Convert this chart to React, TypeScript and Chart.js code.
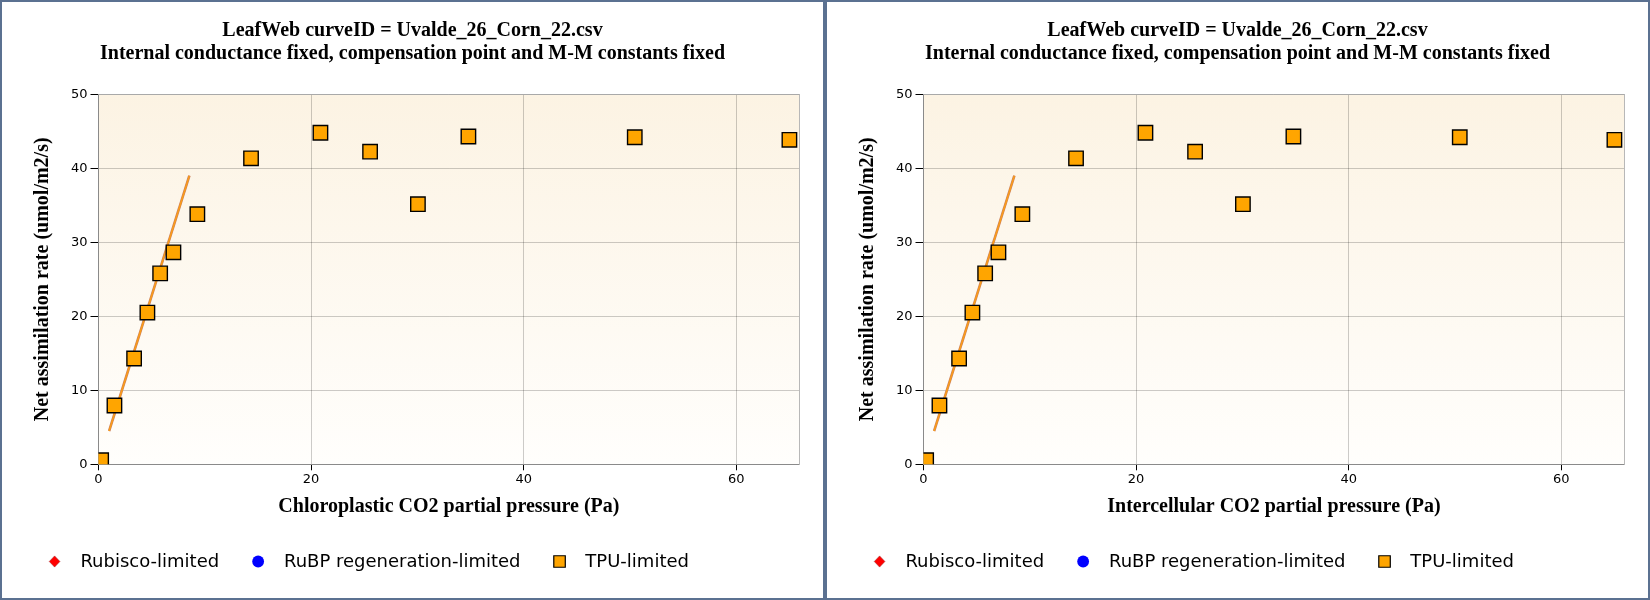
import React, { useEffect, useRef } from 'react';
import { Chart, registerables } from 'chart.js';

Chart.register(...registerables);

// ---- data ----
const pressureValues = [0.25, 1.5, 3.35, 4.6, 5.8, 7.05, 9.3, 14.35, 20.88, 25.55, 30.05, 34.8, 50.45, 65.0];
const assimilationValues = [0.55, 7.95, 14.3, 20.5, 25.8, 28.65, 33.8, 41.35, 44.8, 42.25, 35.15, 44.3, 44.2, 43.85];
const fitLineX = [1.0, 8.55];
const fitLineY = [4.5, 39.0];
const rubiscoX: number[] = [];
const rubiscoY: number[] = [];
const rubpX: number[] = [];
const rubpY: number[] = [];
const xTickValues = [0, 20, 40, 60];
const yTickValues = [0, 10, 20, 30, 40, 50];
const xMin = 0;
const xMax = 65.93;
const yMin = 0;
const yMax = 50;
const titleLines = [
  'LeafWeb curveID = Uvalde_26_Corn_22.csv',
  'Internal conductance fixed, compensation point and M-M constants fixed',
];
const yAxisTitle = 'Net assimilation rate (umol/m2/s)';
const xAxisTitles = ['Chloroplastic CO2 partial pressure (Pa)', 'Intercellular CO2 partial pressure (Pa)'];
const legendLabels = ['Rubisco-limited', 'RuBP regeneration-limited', 'TPU-limited'];

const toPoints = (xs: number[], ys: number[]) => xs.map((x, i) => ({ x, y: ys[i] }));

const SERIF = "'Liberation Serif', 'Times New Roman', serif";
const SANS = "'DejaVu Sans', Verdana, sans-serif";

const plotFrame = {
  id: 'plotFrame',
  beforeDraw(chart: any) {
    const { ctx, chartArea: a } = chart;
    const g = ctx.createLinearGradient(0, a.top, 0, a.bottom);
    g.addColorStop(0, '#fcf3e3');
    g.addColorStop(1, '#fffefc');
    ctx.save();
    ctx.fillStyle = g;
    ctx.fillRect(a.left, a.top, a.right - a.left, a.bottom - a.top);
    ctx.restore();
  },
  beforeDatasetsDraw(chart: any) {
    const { ctx, chartArea: a } = chart;
    ctx.save();
    ctx.strokeStyle = '#a9a9a9';
    ctx.lineWidth = 1;
    ctx.beginPath();
    const ty = Math.round(a.top) + 0.5;
    ctx.moveTo(a.left, ty);
    ctx.lineTo(a.right, ty);
    ctx.stroke();
    ctx.restore();
  },
};

const customLegend = {
  id: 'customLegend',
  afterDraw(chart: any) {
    const { ctx } = chart;
    const items = chart.data.datasets
      .filter((d: any) => d.legendMarker)
      .sort((a: any, b: any) => legendLabels.indexOf(a.label) - legendLabels.indexOf(b.label));
    const centerY = 559.5;
    const baseY = 565.3;
    let x = 52.6;
    ctx.save();
    ctx.font = `18px ${SANS}`;
    ctx.textBaseline = 'alphabetic';
    ctx.textAlign = 'left';
    for (const d of items) {
      const m = d.legendMarker;
      ctx.beginPath();
      if (m === 'diamond') {
        const r = 5.6;
        ctx.moveTo(x, centerY - r);
        ctx.lineTo(x + r * 0.95, centerY);
        ctx.lineTo(x, centerY + r);
        ctx.lineTo(x - r * 0.95, centerY);
        ctx.closePath();
        ctx.fillStyle = d.pointBackgroundColor;
        ctx.fill();
        ctx.strokeStyle = 'rgba(150,20,20,0.6)';
        ctx.lineWidth = 0.8;
        ctx.stroke();
      } else if (m === 'circle') {
        ctx.arc(x, centerY, 5.9, 0, Math.PI * 2);
        ctx.fillStyle = d.pointBackgroundColor;
        ctx.fill();
      } else {
        const s = 11.5;
        ctx.rect(x - s / 2, centerY - s / 2, s, s);
        ctx.fillStyle = d.pointBackgroundColor;
        ctx.fill();
        ctx.strokeStyle = '#000';
        ctx.lineWidth = 1.2;
        ctx.stroke();
      }
      ctx.fillStyle = '#000';
      const tx = x + 25.8;
      ctx.fillText(d.label, tx, baseY);
      x = tx + ctx.measureText(d.label).width + 39;
    }
    ctx.restore();
  },
};

function buildConfig(xTitle: string): any {
  return {
    type: 'scatter',
    data: {
      datasets: [
        {
          label: legendLabels[2],
          legendMarker: 'square',
          data: toPoints(pressureValues, assimilationValues),
          pointStyle: 'rect',
          pointRadius: 10.2,
          pointBackgroundColor: '#ffa500',
          pointBorderColor: '#000',
          pointBorderWidth: 1.4,
          order: 0,
        },
        {
          label: legendLabels[0],
          legendMarker: 'diamond',
          data: toPoints(rubiscoX, rubiscoY),
          pointStyle: 'rectRot',
          pointRadius: 6,
          pointBackgroundColor: '#ff0000',
          order: 1,
        },
        {
          label: legendLabels[1],
          legendMarker: 'circle',
          data: toPoints(rubpX, rubpY),
          pointStyle: 'circle',
          pointRadius: 6,
          pointBackgroundColor: '#0000ff',
          order: 2,
        },
        {
          label: 'fit-under',
          data: toPoints(fitLineX, fitLineY),
          showLine: true,
          borderColor: '#c9805e',
          borderWidth: 2.6,
          pointRadius: 0,
          order: 4,
        },
        {
          label: 'fit',
          data: toPoints(fitLineX, fitLineY),
          showLine: true,
          borderColor: '#fb9c18',
          borderWidth: 1.5,
          pointRadius: 0,
          order: 3,
        },
      ],
    },
    options: {
      responsive: false,
      animation: false,
      events: [],
      layout: { padding: { top: 0, left: 0, right: 0, bottom: 66 } },
      plugins: {
        legend: { display: false },
        tooltip: { enabled: false },
        title: {
          display: true,
          text: titleLines,
          color: '#000',
          font: { family: SERIF, weight: 'bold', size: 20, lineHeight: 1.15 },
          padding: { top: 17, bottom: 29.3 },
        },
      },
      scales: {
        x: {
          type: 'linear',
          min: xMin,
          max: xMax,
          afterBuildTicks: (axis: any) => {
            axis.ticks = xTickValues.map((v) => ({ value: v }));
          },
          afterFit: (s: any) => {
            s.height = 67.7;
          },
          grid: { color: 'rgba(0,0,0,0.2)', tickColor: '#000', tickLength: 6, lineWidth: 1 },
          border: { display: true, color: '#8a8a8a', width: 1 },
          ticks: { color: '#000', font: { family: SANS, size: 13 }, padding: 2, maxRotation: 0 },
          title: {
            display: true,
            text: xTitle,
            color: '#000',
            font: { family: SERIF, weight: 'bold', size: 20, lineHeight: 1.2 },
            padding: { top: 0, bottom: 13 },
          },
        },
        y: {
          type: 'linear',
          min: yMin,
          max: yMax,
          afterBuildTicks: (axis: any) => {
            axis.ticks = yTickValues.map((v) => ({ value: v }));
          },
          afterFit: (s: any) => {
            s.width = 96.5;
          },
          grid: { color: 'rgba(0,0,0,0.2)', tickColor: '#000', tickLength: 8, lineWidth: 1 },
          border: { display: true, color: '#8a8a8a', width: 1 },
          ticks: { color: '#000', font: { family: SANS, size: 13 }, padding: 3 },
          title: {
            display: true,
            text: yAxisTitle,
            color: '#000',
            font: { family: SERIF, weight: 'bold', size: 20, lineHeight: 1.2 },
            padding: { top: 29, bottom: 0 },
          },
        },
        yRight: {
          type: 'linear',
          position: 'right',
          min: yMin,
          max: yMax,
          grid: { display: false, drawTicks: false },
          ticks: { display: false },
          border: { display: true, color: '#b8b8b8', width: 1 },
          afterFit: (s: any) => {
            s.width = 23.7;
          },
        },
      },
    },
    plugins: [plotFrame, customLegend],
  };
}

function Panel({ xTitle }: { xTitle: string }) {
  const ref = useRef<HTMLCanvasElement>(null);
  useEffect(() => {
    if (!ref.current) return;
    const chart = new Chart(ref.current, buildConfig(xTitle));
    return () => chart.destroy();
  }, [xTitle]);
  return (
    <div
      style={{
        width: 825,
        height: 600,
        boxSizing: 'border-box',
        border: '2px solid #5b7191',
        background: '#fff',
      }}
    >
      <canvas ref={ref} width={821} height={596} style={{ display: 'block', width: 821, height: 596 }} />
    </div>
  );
}

export default function App() {
  return (
    <div
      style={{
        position: 'fixed',
        left: 0,
        top: 0,
        width: 1650,
        height: 600,
        display: 'flex',
        background: '#fff',
      }}
    >
      <Panel xTitle={xAxisTitles[0]} />
      <Panel xTitle={xAxisTitles[1]} />
    </div>
  );
}
